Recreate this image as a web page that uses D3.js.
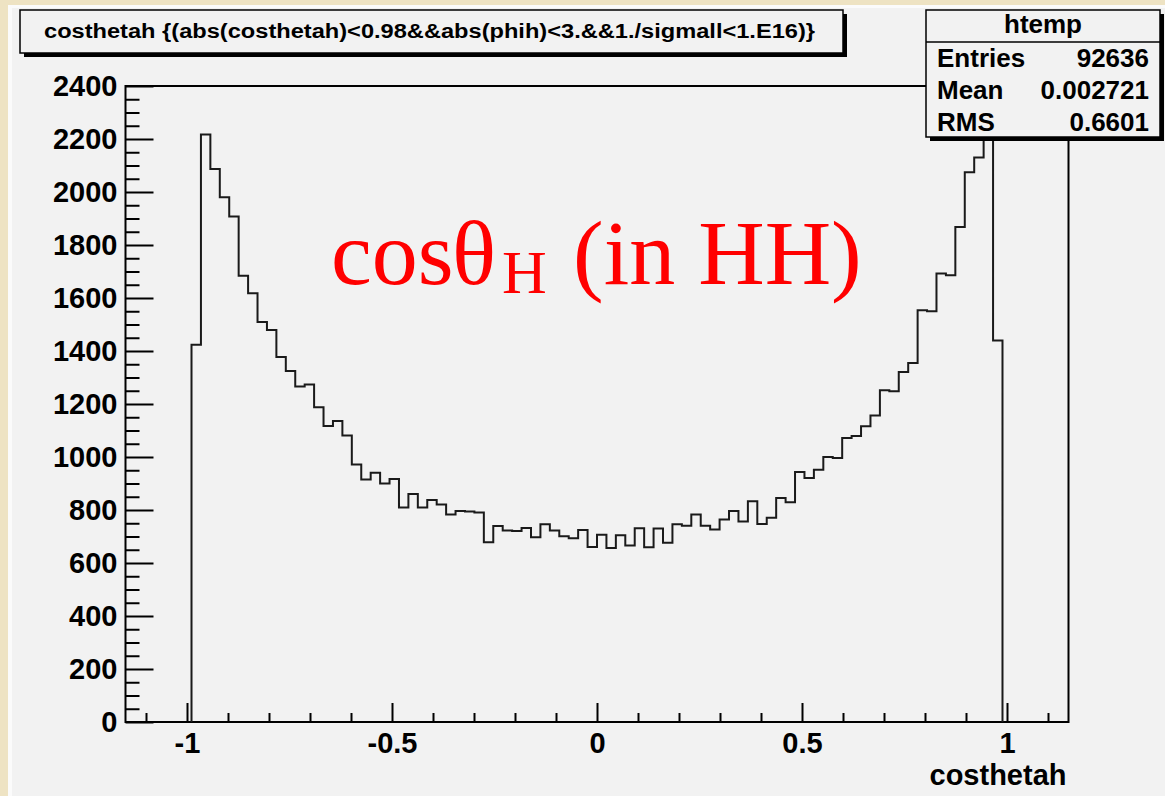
<!DOCTYPE html>
<html>
<head>
<meta charset="utf-8">
<script src="https://cdn.jsdelivr.net/npm/d3@7"></script>
<style>
  body { margin: 0; background: #eee3c3; }
</style>
</head>
<body>
<div id="chart"></div>
<script>
// histogram of costhetah, 100 bins on [-1.15, 1.15], only the filled bins kept
var binLow = -0.989;
var binWidth = 0.023;
var counts = [
  1424, 2217, 2087, 1980, 1908, 1684, 1618, 1509, 1479, 1377,
  1325, 1266, 1274, 1188, 1117, 1136, 1081, 972, 915, 941,
  900, 917, 809, 860, 809, 838, 821, 783, 796, 794,
  791, 678, 740, 723, 721, 732, 697, 746, 723, 701,
  693, 725, 660, 707, 657, 705, 666, 731, 659, 730,
  676, 746, 741, 783, 741, 726, 764, 796, 757, 833,
  747, 771, 845, 829, 943, 921, 952, 1000, 996, 1072,
  1079, 1116, 1157, 1252, 1248, 1321, 1355, 1554, 1550, 1692,
  1686, 1868, 2075, 2130, 2286, 1440
];

var xMajorTicks = [-1, -0.5, 0, 0.5, 1];
var yMajorTicks = [0, 200, 400, 600, 800, 1000, 1200, 1400, 1600, 1800, 2000, 2200, 2400];

var titleText = "costhetah {(abs(costhetah)<0.98&&abs(phih)<3.&&1./sigmall<1.E16)}";
var xAxisTitle = "costhetah";
var statsName = "htemp";
var statsLabels = ["Entries", "Mean", "RMS"];
var statsValues = ["92636", "0.002721", "0.6601"];

var svgWidth = 1165;
var svgHeight = 796;

var margin = {
  top: 86,
  right: 96.5,
  bottom: 74,
  left: 125.5
};

var width = svgWidth - margin.left - margin.right;
var height = svgHeight - margin.top - margin.bottom;

var sans = "'Liberation Sans', Arial, Helvetica, sans-serif";

var svg = d3.select("#chart")
  .append("svg")
  .attr("width", svgWidth)
  .attr("height", svgHeight);

// paper background + pad
svg.append("rect")
  .attr("width", svgWidth).attr("height", svgHeight)
  .attr("fill", "#eee3c3");
svg.append("rect")
  .attr("x", 8).attr("y", 5)
  .attr("width", svgWidth - 8).attr("height", svgHeight - 5)
  .attr("fill", "#fbfbfb");
svg.append("rect")
  .attr("x", 12).attr("y", 8)
  .attr("width", svgWidth - 12).attr("height", svgHeight - 8)
  .attr("fill", "#f2f2f2");

var chartGroup = svg.append("g")
  .attr("transform", `translate(${margin.left}, ${margin.top})`);

// scales
var xScale = d3.scaleLinear()
  .domain([-1.15, 1.15])
  .range([0, width]);

var yScale = d3.scaleLinear()
  .domain([0, 2400])
  .range([height, 0]);

// minor ticks
var xMinorTicks = d3.range(-11, 12).map(d => d / 10)
  .filter(d => xMajorTicks.indexOf(d) < 0);
var yMinorTicks = d3.range(0, 2401, 50)
  .filter(d => yMajorTicks.indexOf(d) < 0);

function styleAxis(g) {
  g.select(".domain").remove();
  g.selectAll("line").attr("stroke", "#000").attr("stroke-width", 2);
  g.selectAll("text")
    .attr("fill", "#000")
    .attr("font-family", sans)
    .attr("font-weight", "700")
    .attr("font-size", "29px");
}

// x axis
chartGroup.append("g")
  .attr("transform", `translate(0, ${height})`)
  .call(d3.axisBottom(xScale).tickValues(xMinorTicks).tickSize(-9).tickFormat(""))
  .call(styleAxis);

chartGroup.append("g")
  .attr("transform", `translate(0, ${height})`)
  .call(d3.axisBottom(xScale).tickValues(xMajorTicks).tickSize(-19).tickPadding(10)
    .tickFormat(d => String(d)))
  .call(styleAxis);

// y axis
chartGroup.append("g")
  .call(d3.axisLeft(yScale).tickValues(yMinorTicks).tickSize(-14).tickFormat(""))
  .call(styleAxis);

chartGroup.append("g")
  .call(d3.axisLeft(yScale).tickValues(yMajorTicks).tickSize(-28).tickPadding(8)
    .tickFormat(d => String(d)))
  .call(styleAxis);

// frame
chartGroup.append("rect")
  .attr("width", width)
  .attr("height", height)
  .attr("fill", "none")
  .attr("stroke", "#000")
  .attr("stroke-width", 2);

// histogram outline
var pts = [[binLow, 0]];
counts.forEach(function(c, i) {
  pts.push([binLow + i * binWidth, c]);
  pts.push([binLow + (i + 1) * binWidth, c]);
});
pts.push([binLow + counts.length * binWidth, 0]);

var histLine = d3.line()
  .x(d => xScale(d[0]))
  .y(d => yScale(d[1]));

chartGroup.append("path")
  .attr("d", histLine(pts))
  .attr("fill", "none")
  .attr("stroke", "#1a1a1a")
  .attr("stroke-width", 2);

// x axis title
chartGroup.append("text")
  .attr("x", width - 2)
  .attr("y", height + 63)
  .attr("text-anchor", "end")
  .attr("font-family", sans)
  .attr("font-weight", "700")
  .attr("font-size", "29px")
  .text(xAxisTitle);

// red annotation
var red = svg.append("g")
  .attr("fill", "#ff0000")
  .attr("font-family", "'Liberation Serif', 'Times New Roman', serif");
red.append("text").attr("x", 331).attr("y", 284).attr("font-size", "92px").text("cos");
red.append("text").attr("x", 452).attr("y", 284).attr("font-size", "92px").text("θ");
red.append("text").attr("x", 502).attr("y", 293).attr("font-size", "62px").text("H");
red.append("text").attr("x", 573).attr("y", 284).attr("font-size", "92px").text("(in HH)");

// title box
function shadowBox(x, y, w, h) {
  svg.append("rect")
    .attr("x", x + 4).attr("y", y + 4)
    .attr("width", w).attr("height", h)
    .attr("fill", "#000");
  svg.append("rect")
    .attr("x", x).attr("y", y)
    .attr("width", w).attr("height", h)
    .attr("fill", "#f2f2f2")
    .attr("stroke", "#000")
    .attr("stroke-width", 1.5);
}

shadowBox(20, 10, 823, 43);
svg.append("text")
  .attr("x", 44)
  .attr("y", 38)
  .attr("font-family", sans)
  .attr("font-weight", "700")
  .attr("font-size", "20px")
  .attr("textLength", 771)
  .attr("lengthAdjust", "spacingAndGlyphs")
  .text(titleText);

// stats box
shadowBox(926, 10, 234, 127);
svg.append("line")
  .attr("x1", 926).attr("x2", 1160)
  .attr("y1", 42).attr("y2", 42)
  .attr("stroke", "#000").attr("stroke-width", 1.5);

svg.append("text")
  .attr("x", 1043)
  .attr("y", 33)
  .attr("text-anchor", "middle")
  .attr("font-family", sans)
  .attr("font-weight", "700")
  .attr("font-size", "26px")
  .text(statsName);

var rowY = [67, 99, 131];
statsLabels.forEach(function(lab, i) {
  svg.append("text")
    .attr("x", 937)
    .attr("y", rowY[i])
    .attr("font-family", sans)
    .attr("font-weight", "700")
    .attr("font-size", "26px")
    .text(lab);
  svg.append("text")
    .attr("x", 1149)
    .attr("y", rowY[i])
    .attr("text-anchor", "end")
    .attr("font-family", sans)
    .attr("font-weight", "700")
    .attr("font-size", "26px")
    .text(statsValues[i]);
});
</script>
</body>
</html>
